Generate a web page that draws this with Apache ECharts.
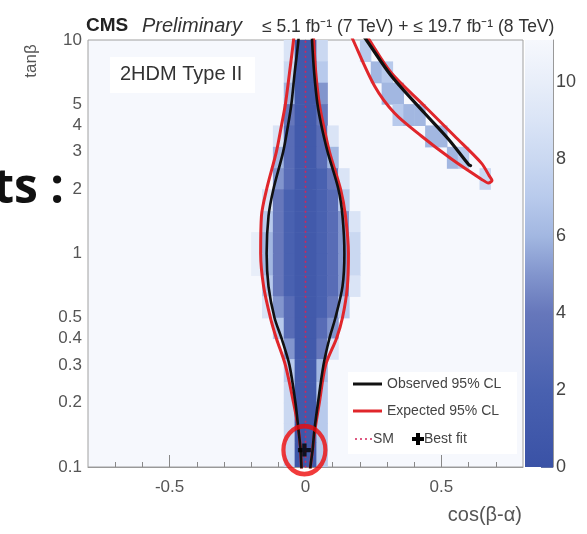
<!DOCTYPE html>
<html>
<head>
<meta charset="utf-8">
<script src="https://cdn.jsdelivr.net/npm/echarts@6/dist/echarts.min.js"></script>
<style>html,body{margin:0;padding:0;background:#fff;}#c{width:587px;height:534px;}</style>
</head>
<body>
<div id="c"></div>
<script>
// ---------------- DATA ----------------
// heat-map bins (cos(beta-alpha) edges, tan(beta) edges from top to bottom)
const cosEdges = [-0.20, -0.16, -0.12, -0.08, -0.04, 0.00, 0.04, 0.08, 0.12, 0.16, 0.20];
const tanbEdges = [10, 7.94, 6.31, 5.01, 3.98, 3.16, 2.51, 2.00, 1.58, 1.26, 1.00, 0.79, 0.63, 0.50, 0.40, 0.32, 0.25, 0.20, 0.16, 0.13, 0.10];
// -2 ln L values per cell (rows: tanb bins top->bottom, cols: cos bins left->right)
const cellValues = [
  [11, 11, 11, 9, 1, 1, 8, 11, 11, 11],
  [11, 11, 11, 8, 1, 1, 7, 11, 11, 11],
  [11, 11, 11, 6, 1, 1, 5, 11, 11, 11],
  [11, 11, 11, 4, 1, 1, 4, 11, 11, 11],
  [11, 11, 9, 3, 1, 1, 3, 9, 11, 11],
  [11, 11, 6, 3, 1, 1, 3, 6, 11, 11],
  [11, 11, 5, 3, 1, 1, 2, 4, 9, 11],
  [11, 9, 4, 2, 1, 1, 2, 3, 7, 11],
  [11, 7, 4, 2, 1, 1, 2, 3, 5, 9],
  [10, 6, 4, 2, 1, 1, 2, 3, 5, 8],
  [10, 6, 4, 2, 1, 1, 2, 3, 5, 8],
  [11, 7, 4, 2, 1, 1, 2, 3, 5, 9],
  [11, 9, 5, 3, 1, 1, 2, 4, 7, 11],
  [11, 11, 7, 3, 1, 1, 3, 5, 11, 11],
  [11, 11, 11, 5, 1, 1, 4, 9, 11, 11],
  [11, 11, 11, 7, 1, 1, 6, 11, 11, 11],
  [11, 11, 11, 8, 1, 1, 7, 11, 11, 11],
  [11, 11, 11, 8, 1, 1, 7, 11, 11, 11],
  [11, 11, 11, 8, 0.5, 1, 7, 11, 11, 11],
  [11, 11, 11, 8, 0.5, 1, 7, 11, 11, 11]
];
// second (wrong-sign) branch cells: [cos left edge, tanb row index, value]
const armCells = [
  [0.20, 0, 7], [0.24, 1, 6], [0.28, 1, 7], [0.28, 2, 6], [0.32, 2, 6],
  [0.32, 3, 7], [0.36, 3, 6], [0.40, 3, 6], [0.44, 4, 6], [0.48, 4, 6],
  [0.52, 5, 6], [0.56, 5, 7], [0.64, 6, 8]
];
// contours [cos(beta-alpha), tan(beta)]
const expectedCentral = [[-0.040,12],[-0.044,10],[-0.059,7],[-0.074,5],[-0.088,4],[-0.107,3],[-0.143,2],[-0.162,1.5],[-0.165,1],[-0.154,0.7],[-0.129,0.5],[-0.107,0.4],[-0.074,0.3],[-0.044,0.2],[-0.026,0.15],[-0.018,0.12],[-0.015,0.1],[-0.012,0.085],[0.015,0.085],[0.018,0.1],[0.026,0.12],[0.035,0.15],[0.051,0.2],[0.074,0.3],[0.114,0.4],[0.136,0.5],[0.154,0.7],[0.158,1],[0.147,1.5],[0.129,2],[0.088,3],[0.066,4],[0.051,5],[0.038,7],[0.030,10],[0.028,12],[-0.040,12]];
const observedCentral = [[-0.024,12],[-0.026,10],[-0.040,7],[-0.052,5],[-0.064,4],[-0.082,3],[-0.118,2],[-0.136,1.5],[-0.143,1],[-0.136,0.7],[-0.114,0.5],[-0.088,0.4],[-0.059,0.3],[-0.037,0.2],[-0.026,0.15],[-0.018,0.12],[-0.015,0.1],[-0.012,0.085],[0.015,0.085],[0.018,0.1],[0.026,0.12],[0.033,0.15],[0.046,0.2],[0.066,0.3],[0.088,0.4],[0.110,0.5],[0.136,0.7],[0.143,1],[0.136,1.5],[0.121,2],[0.081,3],[0.058,4],[0.044,5],[0.032,7],[0.024,10],[0.022,12],[-0.024,12]];
const expectedArm = [[0.149,12],[0.175,10],[0.254,6.09],[0.327,4.55],[0.426,3.55],[0.537,2.77],[0.647,2.23],[0.673,2.14],[0.686,2.2],[0.676,2.31],[0.647,2.65],[0.548,3.55],[0.4375,4.91],[0.316,7.0],[0.235,10],[0.197,12],[0.149,12]];
const observedArm = [[0.180,12],[0.224,10],[0.316,6.78],[0.4375,4.55],[0.526,3.43],[0.599,2.62],[0.607,2.58]];
const smLine = [[0, 0.08], [0, 12]];
const bestFit = [[-0.004, 0.12]];
// ticks
const xMajorTicks = [-0.5, 0, 0.5];
const xMinorTicks = [-0.7, -0.6, -0.4, -0.3, -0.2, -0.1, 0.1, 0.2, 0.3, 0.4, 0.6, 0.7];
const yMajorTicks = [0.1, 1, 10];
const yMinorTicks = [0.2, 0.3, 0.4, 0.5, 0.6, 0.7, 0.8, 0.9, 2, 3, 4, 5, 6, 7, 8, 9];
const yLabels = [0.1, 0.2, 0.3, 0.4, 0.5, 1, 2, 3, 4, 5, 10];
const zTicks = [0, 2, 4, 6, 8, 10];
const zMax = 11.1;

// ---------------- STYLE ----------------
const cmapStops = [0, 2, 4, 5, 6, 7, 8, 9, 10, 11.1];
const cmapColors = ['#3a52a6', '#4961b0', '#6677bb', '#8295cd', '#a2b7e1', '#b8caec', '#cad8f1', '#dae4f6', '#e8eef9', '#f6f8fd'];
function hex2rgb(h) { return [parseInt(h.slice(1,3),16), parseInt(h.slice(3,5),16), parseInt(h.slice(5,7),16)]; }
function colorOf(v) {
  if (v <= cmapStops[0]) return cmapColors[0];
  for (let i = 1; i < cmapStops.length; i++) {
    if (v <= cmapStops[i]) {
      const t = (v - cmapStops[i-1]) / (cmapStops[i] - cmapStops[i-1]);
      const a = hex2rgb(cmapColors[i-1]), b = hex2rgb(cmapColors[i]);
      return 'rgb(' + a.map((c, k) => Math.round(c + (b[k] - c) * t)).join(',') + ')';
    }
  }
  return cmapColors[cmapColors.length - 1];
}
const FONT = '"Liberation Sans", Arial, sans-serif';
const fmt = v => String(parseFloat(Number(v).toPrecision(6)));

// build cell table
const binW = cosEdges[1] - cosEdges[0];
const cellData = [];
cellValues.forEach((row, i) => row.forEach((v, j) => {
  if (v < 11) cellData.push([cosEdges[j], cosEdges[j+1], tanbEdges[i], tanbEdges[i+1], v]);
}));
armCells.forEach(([xl, r, v]) => cellData.push([xl, xl + binW, tanbEdges[r], tanbEdges[r+1], v]));

const chart = echarts.init(document.getElementById('c'), null, { renderer: 'canvas' });
const gradStops = cmapStops.map((s, i) => ({ offset: s / zMax, color: cmapColors[i] }));

const option = {
  animation: false,
  grid: [
    { left: 88, right: 64, top: 40, bottom: 67, show: true, borderColor: '#a0a0a0', borderWidth: 1, backgroundColor: cmapColors[cmapColors.length-1], outerBoundsMode: 'none', containLabel: false },
    { left: 525, width: 28, top: 40, bottom: 67, outerBoundsMode: 'none', containLabel: false }
  ],
  xAxis: [
    { type: 'value', gridIndex: 0, min: -0.8, max: 0.8, position: 'bottom',
      axisLine: { show: true, lineStyle: { color: '#999', width: 1 } },
      axisTick: { show: true, inside: true, length: 12, customValues: xMajorTicks, lineStyle: { color: '#888' } },
      axisLabel: { customValues: xMajorTicks, fontSize: 17, color: '#555', margin: 12, fontFamily: FONT, formatter: fmt },
      splitLine: { show: false } },
    { type: 'value', gridIndex: 0, min: -0.8, max: 0.8, position: 'bottom',
      axisLine: { show: false },
      axisTick: { show: true, inside: true, length: 5, customValues: xMinorTicks, lineStyle: { color: '#888' } },
      axisLabel: { show: false }, splitLine: { show: false } },
    { type: 'category', gridIndex: 1, data: ['z'], show: false }
  ],
  yAxis: [
    { type: 'log', logBase: 10, gridIndex: 0, min: 0.1, max: 10, position: 'left',
      axisLine: { show: true, lineStyle: { color: '#999', width: 1 } },
      axisTick: { show: true, inside: true, length: 13, customValues: yMajorTicks, lineStyle: { color: '#888' } },
      axisLabel: { customValues: yLabels, fontSize: 17, color: '#555', margin: 6, fontFamily: FONT, formatter: fmt },
      splitLine: { show: false } },
    { type: 'log', logBase: 10, gridIndex: 0, min: 0.1, max: 10, position: 'left',
      axisLine: { show: false },
      axisTick: { show: true, inside: true, length: 7, customValues: yMinorTicks, lineStyle: { color: '#888' } },
      axisLabel: { show: false }, splitLine: { show: false } },
    { type: 'value', gridIndex: 1, min: 0, max: zMax, position: 'right',
      axisLine: { show: true, lineStyle: { color: '#999', width: 1 } },
      axisTick: { show: true, inside: true, length: 12, customValues: zTicks, lineStyle: { color: '#6070a8' } },
      axisLabel: { customValues: zTicks, fontSize: 18, color: '#444', margin: 3, fontFamily: FONT },
      splitLine: { show: false } }
  ],
  series: [
    { type: 'custom', name: 'likelihood', xAxisIndex: 0, yAxisIndex: 0, clip: true,
      encode: { x: [0, 1], y: [2, 3] }, data: cellData, z: 1,
      renderItem: function (params, api) {
        const p1 = api.coord([api.value(0), api.value(2)]);
        const p2 = api.coord([api.value(1), api.value(3)]);
        return { type: 'rect', shape: { x: p1[0], y: p1[1], width: p2[0] - p1[0] + 0.6, height: p2[1] - p1[1] + 0.6 },
                 style: { fill: colorOf(api.value(4)) } };
      } },
    { type: 'line', name: 'SM', xAxisIndex: 0, yAxisIndex: 0, data: smLine, symbol: 'none', z: 3,
      lineStyle: { color: '#d3245a', width: 1.6, type: [2, 3] } },
    { type: 'line', name: 'Expected 95% CL', xAxisIndex: 0, yAxisIndex: 0, data: expectedCentral, symbol: 'none', smooth: 0.3, z: 4,
      lineStyle: { color: '#e0262b', width: 3 } },
    { type: 'line', name: 'Expected 95% CL arm', xAxisIndex: 0, yAxisIndex: 0, data: expectedArm, symbol: 'none', smooth: 0.3, z: 4,
      lineStyle: { color: '#e0262b', width: 3 } },
    { type: 'line', name: 'Observed 95% CL', xAxisIndex: 0, yAxisIndex: 0, data: observedCentral, symbol: 'none', smooth: 0.3, z: 5,
      lineStyle: { color: '#111', width: 2.6 } },
    { type: 'line', name: 'Observed 95% CL arm', xAxisIndex: 0, yAxisIndex: 0, data: observedArm, symbol: 'none', smooth: 0.3, z: 5,
      lineStyle: { color: '#111', width: 3.2, cap: 'round' } },
    { type: 'scatter', name: 'Best fit', xAxisIndex: 0, yAxisIndex: 0, data: bestFit, z: 6,
      symbol: 'path://M4,0H8V4H12V8H8V12H4V8H0V4H4Z', symbolSize: 13, itemStyle: { color: '#000' } },
    { type: 'scatter', name: 'highlight', xAxisIndex: 0, yAxisIndex: 0, data: bestFit, z: 7,
      symbol: 'circle', symbolSize: [42, 48], itemStyle: { color: 'rgba(0,0,0,0)', borderColor: '#ee0a0a', borderWidth: 4.5 } },
    { type: 'bar', name: 'colorbar', xAxisIndex: 2, yAxisIndex: 2, data: [zMax], barWidth: '100%', z: 1,
      itemStyle: { color: new echarts.graphic.LinearGradient(0, 1, 0, 0, gradStops) } }
  ],
  graphic: [
    { type: 'text', z: 100, style: { x: 64, y: 165, text: 'ts :', font: 'bold 48px "Open Sans", "DejaVu Sans", sans-serif', fill: '#111', textAlign: 'right', textVerticalAlign: 'alphabetic' } },
    { type: 'text', z: 100, x: 31, y: 61, rotation: Math.PI / 2, style: { x: 0, y: 0, text: 'tanβ', font: '17px ' + FONT, fill: '#555', textAlign: 'center', textVerticalAlign: 'middle' } },
    { type: 'text', z: 100, style: { x: 86, y: 26, text: 'CMS', font: 'bold 19px ' + FONT, fill: '#222', textVerticalAlign: 'middle' } },
    { type: 'text', z: 100, style: { x: 142, y: 26, text: 'Preliminary', font: 'italic 20px ' + FONT, fill: '#333', textVerticalAlign: 'middle' } },
    { type: 'text', z: 100, style: { x: 262, y: 27, text: '≤ 5.1 fb⁻¹ (7 TeV) + ≤ 19.7 fb⁻¹ (8 TeV)', font: '17.5px ' + FONT, fill: '#333', textVerticalAlign: 'middle' } },
    { type: 'text', z: 100, style: { x: 522, y: 515, text: 'cos(β-α)', font: '20px ' + FONT, fill: '#555', textAlign: 'right', textVerticalAlign: 'middle' } },
    { type: 'rect', z: 100, shape: { x: 110, y: 57, width: 145, height: 36 }, style: { fill: '#ffffff' } },
    { type: 'text', z: 101, style: { x: 120, y: 74, text: '2HDM Type II', font: '20px ' + FONT, fill: '#333', textVerticalAlign: 'middle' } },
    { type: 'rect', z: 100, shape: { x: 348, y: 372, width: 169, height: 82 }, style: { fill: '#ffffff' } },
    { type: 'line', z: 101, shape: { x1: 353, y1: 384, x2: 382, y2: 384 }, style: { stroke: '#111', lineWidth: 3 } },
    { type: 'text', z: 101, style: { x: 387, y: 384, text: 'Observed 95% CL', font: '14px ' + FONT, fill: '#444', textVerticalAlign: 'middle' } },
    { type: 'line', z: 101, shape: { x1: 353, y1: 411, x2: 382, y2: 411 }, style: { stroke: '#e0262b', lineWidth: 3 } },
    { type: 'text', z: 101, style: { x: 387, y: 411, text: 'Expected 95% CL', font: '14px ' + FONT, fill: '#444', textVerticalAlign: 'middle' } },
    { type: 'line', z: 101, shape: { x1: 355, y1: 439, x2: 372, y2: 439 }, style: { stroke: '#d3245a', lineWidth: 1.6, lineDash: [2, 3] } },
    { type: 'text', z: 101, style: { x: 373, y: 439, text: 'SM', font: '14px ' + FONT, fill: '#444', textVerticalAlign: 'middle' } },
    { type: 'polygon', z: 101, shape: { points: [[416,433],[420,433],[420,437],[424,437],[424,441],[420,441],[420,445],[416,445],[416,441],[412,441],[412,437],[416,437]] }, style: { fill: '#000' } },
    { type: 'text', z: 101, style: { x: 424, y: 439, text: 'Best fit', font: '14px ' + FONT, fill: '#444', textVerticalAlign: 'middle' } }
  ]
};
chart.setOption(option);
</script>
</body>
</html>
